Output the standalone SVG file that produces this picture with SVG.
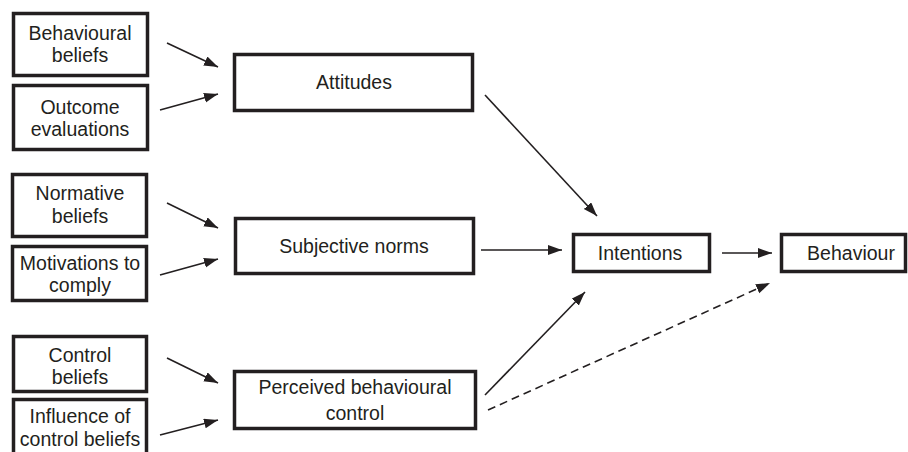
<svg xmlns="http://www.w3.org/2000/svg" width="908" height="452" viewBox="0 0 908 452">
<defs>
<style>
.box{fill:#fff;stroke:#231f20;stroke-width:3.5}
.t{font-family:"Liberation Sans",Arial,sans-serif;font-size:19.5px;fill:#231f20;text-anchor:middle}
.c{stroke:#231f20;stroke-width:1.6;fill:none;marker-end:url(#ah)}
.d{stroke-dasharray:8 5}
</style>
<marker id="ah" markerUnits="userSpaceOnUse" markerWidth="16" markerHeight="12" refX="14" refY="5" orient="auto">
<path d="M0,0 L14,5 L0,10 Z" fill="#231f20"/>
</marker>
</defs>
<rect width="908" height="452" fill="#fff"/>
<g id="behavioural-beliefs"><rect class="box" x="13.5" y="13.5" width="134" height="62"/><text class="t" x="80" y="40">Behavioural</text><text class="t" x="80" y="62">beliefs</text></g>
<g id="outcome-evaluations"><rect class="box" x="13.5" y="85.5" width="134" height="64"/><text class="t" x="80" y="114">Outcome</text><text class="t" x="80" y="136">evaluations</text></g>
<g id="normative-beliefs"><rect class="box" x="12.5" y="174.5" width="134" height="62"/><text class="t" x="80" y="200">Normative</text><text class="t" x="80" y="223">beliefs</text></g>
<g id="motivations"><rect class="box" x="12.5" y="246.5" width="134" height="54"/><text class="t" x="80" y="270">Motivations to</text><text class="t" x="80" y="292">comply</text></g>
<g id="control-beliefs"><rect class="box" x="13.5" y="336.5" width="133" height="55"/><text class="t" x="80" y="362">Control</text><text class="t" x="80" y="384">beliefs</text></g>
<g id="influence"><rect class="box" x="13.5" y="399.5" width="133" height="60"/><text class="t" x="80" y="423">Influence of</text><text class="t" x="80" y="446">control beliefs</text></g>
<g id="attitudes"><rect class="box" x="234.5" y="54.5" width="238" height="56"/><text class="t" x="354" y="89">Attitudes</text></g>
<g id="subjective-norms"><rect class="box" x="235.5" y="218.5" width="238" height="55"/><text class="t" x="354" y="253">Subjective norms</text></g>
<g id="pbc"><rect class="box" x="234.5" y="371.5" width="241" height="57"/><text class="t" x="355" y="394">Perceived behavioural</text><text class="t" x="355" y="420">control</text></g>
<g id="intentions"><rect class="box" x="573.5" y="234.5" width="136" height="37"/><text class="t" x="640" y="260">Intentions</text></g>
<g id="behaviour"><rect class="box" x="781.5" y="234.5" width="124" height="37"/><text class="t" x="851" y="260">Behaviour</text></g>
<g id="connectors">
<line class="c" x1="167" y1="43" x2="218" y2="67"/>
<line class="c" x1="160" y1="110" x2="218" y2="94"/>
<line class="c" x1="167" y1="203" x2="218" y2="228"/>
<line class="c" x1="160" y1="275" x2="218" y2="259"/>
<line class="c" x1="167" y1="358" x2="218" y2="383"/>
<line class="c" x1="160" y1="435" x2="218" y2="420"/>
<line class="c" x1="485" y1="95" x2="597" y2="216"/>
<line class="c" x1="481" y1="250" x2="562" y2="250"/>
<line class="c" x1="485" y1="395" x2="585" y2="292"/>
<line class="c" x1="722" y1="253" x2="772" y2="253"/>
<line class="c d" x1="488" y1="410" x2="770" y2="283"/>
</g>
</svg>
